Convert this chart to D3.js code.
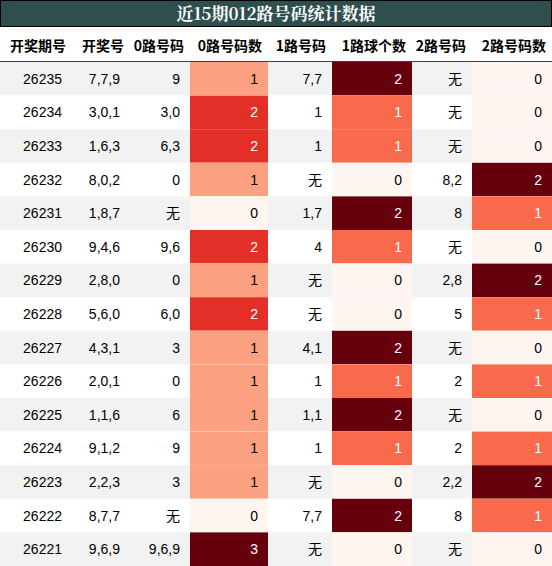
<!DOCTYPE html>
<html><head><meta charset="utf-8">
<script src="https://cdn.jsdelivr.net/npm/d3@7"></script>
<style>body{margin:0;background:#fff}</style>
</head><body>
<svg width="552" height="566"></svg>
<script>
const headers = ['开奖期号','开奖号','0路号码','0路号码数','1路号码','1路球个数','2路号码','2路号码数'];
const issues = ['26235','26234','26233','26232','26231','26230','26229','26228','26227','26226','26225','26224','26223','26222','26221'];
const draws = ['7,7,9','3,0,1','1,6,3','8,0,2','1,8,7','9,4,6','2,8,0','5,6,0','4,3,1','2,0,1','1,1,6','9,1,2','2,2,3','8,7,7','9,6,9'];
const road0 = ['9','3,0','6,3','0','无','9,6','0','6,0','3','0','6','9','3','无','9,6,9'];
const road0n = [1,2,2,1,0,2,1,2,1,1,1,1,1,0,3];
const road1 = ['7,7','1','1','无','1,7','4','无','无','4,1','1','1,1','1','无','7,7','无'];
const road1n = [2,1,1,0,2,1,0,0,2,1,2,1,0,2,0];
const road2 = ['无','无','无','8,2','8','无','2,8','5','无','2','无','2','2,2','8','无'];
const road2n = [0,0,0,2,1,0,2,1,0,1,0,1,2,1,0];

const svg = d3.select('svg');
const width = 552, height = 566;
const edges = [0,72,130,190,268,332,412,472,552];
const titleH = 27, headH = 35;

const y = d3.scaleBand().domain(d3.range(issues.length)).range([titleH + headH, height]);

svg.append('rect').attr('x',0.5).attr('y',0.5).attr('width',width-1).attr('height',titleH-1)
  .attr('fill','#2f4f4f').attr('stroke','#000');
svg.append('text').attr('x',width/2).attr('y',titleH/2+6).attr('text-anchor','middle')
  .attr('fill','#fff').attr('font-family','"Noto Serif CJK SC","DejaVu Serif",serif')
  .attr('font-weight','bold').attr('font-size',17).text('近15期012路号码统计数据');

svg.selectAll('.hd').data(headers).join('text')
  .attr('x',(d,i)=>edges[i+1]-6).attr('y',titleH+headH/2+6).attr('text-anchor','end')
  .attr('font-family','"Noto Sans CJK SC",sans-serif').attr('font-weight','bold').attr('font-size',14)
  .text(d=>d);
svg.append('line').attr('x1',0).attr('x2',width).attr('y1',titleH+headH).attr('y2',titleH+headH)
  .attr('stroke','#000').attr('stroke-width',1.5);

const cols = [issues, draws, road0, road0n, road1, road1n, road2, road2n];
const maxes = {3: d3.max(road0n), 5: d3.max(road1n), 7: d3.max(road2n)};

const rows = svg.selectAll('.row').data(issues).join('g').attr('transform',(d,i)=>`translate(0,${y(i)})`);
rows.append('rect').attr('width',width).attr('height',y.bandwidth()).attr('fill',(d,i)=>i%2===0?'#f2f2f2':'#fff');

cols.forEach((col,c)=>{
  rows.each(function(d,i){
    const g = d3.select(this);
    const v = col[i];
    let txtColor = '#000';
    if (maxes[c] !== undefined) {
      const t = v / maxes[c];
      g.append('rect').attr('x',edges[c]).attr('width',edges[c+1]-edges[c]).attr('height',y.bandwidth())
        .attr('fill',d3.interpolateReds(t));
      if (t >= 0.5) txtColor = '#fff';
    }
    g.append('text').attr('x',edges[c+1]-10).attr('y',y.bandwidth()/2+5).attr('text-anchor','end')
      .attr('font-family','"Liberation Sans","Noto Sans CJK SC",sans-serif').attr('font-size',14)
      .attr('fill',txtColor).text(v);
  });
});
</script>
</body></html>
